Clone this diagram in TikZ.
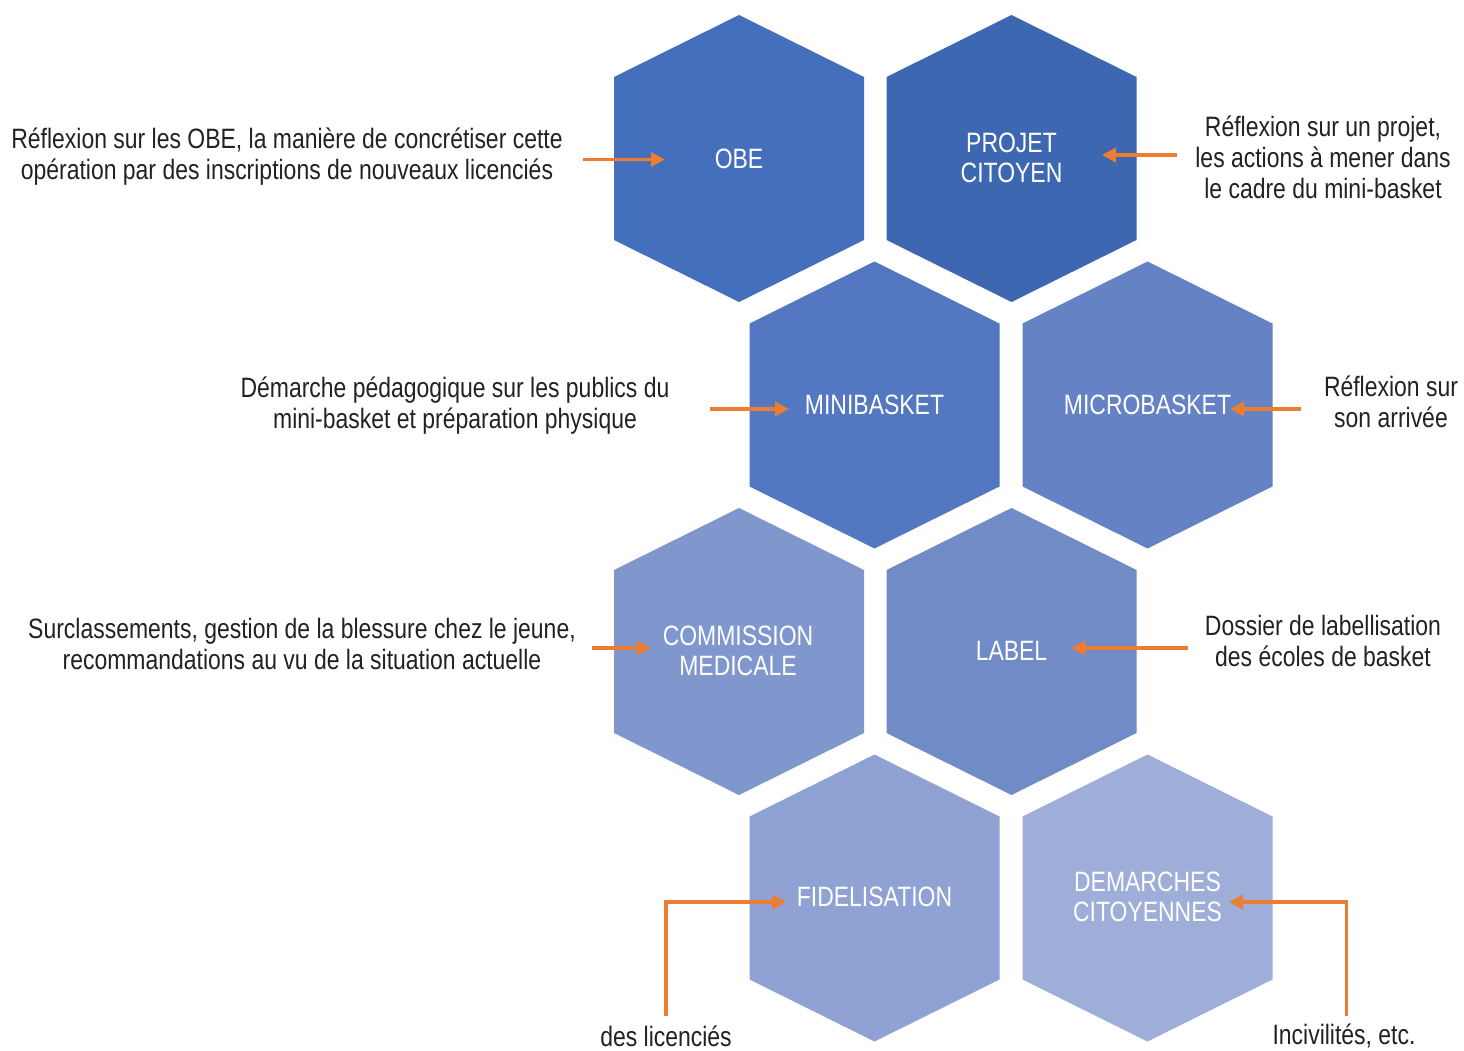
\documentclass[tikz,border=0pt]{standalone}
\usepackage{fontspec}
\setmainfont{Liberation Sans}[FakeStretch=0.82]
\usetikzlibrary{arrows.meta}
\definecolor{hobe}{HTML}{446FBD}
\definecolor{hprojet}{HTML}{3E67B1}
\definecolor{hmini}{HTML}{5378C1}
\definecolor{hmicro}{HTML}{6583C4}
\definecolor{hcomm}{HTML}{7F97CD}
\definecolor{hlabel}{HTML}{718BC7}
\definecolor{hfidel}{HTML}{8FA2D3}
\definecolor{hdemar}{HTML}{9FAED8}
\definecolor{arrorange}{HTML}{ED7D31}
\definecolor{txtdark}{HTML}{222222}
\tikzset{
  hexagon/.pic={\path[pic actions] (0,-143.5) -- (125,-81.5) -- (125,81.5) -- (0,143.5) -- (-125,81.5) -- (-125,-81.5) -- cycle;},
  hexlabel/.style={text=white, align=center, inner sep=0pt, font=\fontsize{28}{30}\selectfont},
  desc/.style={text=txtdark, align=center, inner sep=0pt, font=\fontsize{28}{31}\selectfont},
  arr/.style={draw=arrorange, line width=3.6pt, -{Triangle[length=14pt,width=14pt]}}
}
\begin{document}
\begin{tikzpicture}[x=1pt,y=-1pt]
\useasboundingbox (0,0) rectangle (1464,1051);
\clip (0,0) rectangle (1464,1051);
\fill[white] (0,0) rectangle (1464,1051);

% hexagons
\pic[fill=hobe] at (739,158.5) {hexagon};
\pic[fill=hprojet] at (1011.5,158.5) {hexagon};
\pic[fill=hmini] at (874.5,405) {hexagon};
\pic[fill=hmicro] at (1147.5,405) {hexagon};
\pic[fill=hcomm] at (739,651.5) {hexagon};
\pic[fill=hlabel] at (1011.5,651.5) {hexagon};
\pic[fill=hfidel] at (874.5,898) {hexagon};
\pic[fill=hdemar] at (1147.5,898) {hexagon};

% hexagon labels
\node[hexlabel] (obe) at (739,159) {OBE};
\node[hexlabel] (projet) at (1011.5,158) {PROJET\\CITOYEN};
\node[hexlabel] (mini) at (874.5,405) {MINIBASKET};
\node[hexlabel] (micro) at (1147.5,405) {MICROBASKET};
\node[hexlabel] (comm) at (738,651) {COMMISSION\\MEDICALE};
\node[hexlabel] (label) at (1011.5,651) {LABEL};
\node[hexlabel] (fidel) at (874.5,897) {FIDELISATION};
\node[hexlabel] (demar) at (1147.5,897) {DEMARCHES\\CITOYENNES};

% descriptions
\node[desc] (dobe) at (287,157) {Réflexion sur les OBE, la manière de concrétiser cette\\opération par des inscriptions de nouveaux licenciés};
\node[desc] (dprojet) at (1323,157) {Réflexion sur un projet,\\les actions à mener dans\\le cadre du mini-basket};
\node[desc] (dmini) at (455,406) {Démarche pédagogique sur les publics du\\mini-basket et préparation physique};
\node[desc] (dmicro) at (1391,402) {Réflexion sur\\son arrivée};
\node[desc] (dcomm) at (302,644) {Surclassements, gestion de la blessure chez le jeune,\\recommandations au vu de la situation actuelle};
\node[desc] (dlabel) at (1323,641) {Dossier de labellisation\\des écoles de basket};
\node[desc] (dfidel) at (666,1036) {des licenciés};
\node[desc] (ddemar) at (1344,1036) {Incivilités, etc.};

% arrow end points
\coordinate (aobeS) at (583,159.5);   \coordinate (aobeE) at (665,159.5);
\coordinate (aprojS) at (1177,155);   \coordinate (aprojE) at (1102,155);
\coordinate (aminiS) at (710,409);    \coordinate (aminiE) at (789,409);
\coordinate (amicroS) at (1301,409);  \coordinate (amicroE) at (1230,409);
\coordinate (acommS) at (592,648);    \coordinate (acommE) at (651,648);
\coordinate (alabelS) at (1188,648);  \coordinate (alabelE) at (1071,648);
\coordinate (afidelS) at (666,1016);  \coordinate (afidelE) at (786,902);
\coordinate (ademarS) at (1346.5,1016); \coordinate (ademarE) at (1229,902);

\draw[arr] (aobeS) -- (aobeE);
\draw[arr] (aprojS) -- (aprojE);
\draw[arr] (aminiS) -- (aminiE);
\draw[arr] (amicroS) -- (amicroE);
\draw[arr] (acommS) -- (acommE);
\draw[arr] (alabelS) -- (alabelE);
\draw[arr] (afidelS) |- (afidelE);
\draw[arr] (ademarS) |- (ademarE);
\end{tikzpicture}
\end{document}
